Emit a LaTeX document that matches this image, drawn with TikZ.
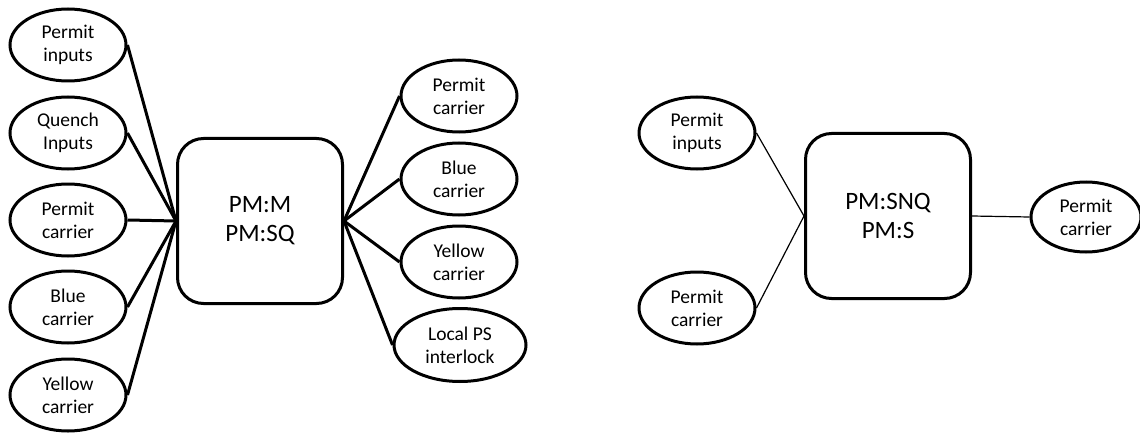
\documentclass[tikz,border=0pt]{standalone}
\usepackage{fontspec}
\setmainfont{Carlito}
\usetikzlibrary{shapes.geometric}
\begin{document}
\begin{tikzpicture}[x=1pt,y=-1pt,
  oval/.style={ellipse, draw, line width=3pt, inner sep=0pt,
    minimum width=116pt, minimum height=72pt, align=center,
    font=\fontsize{19.5}{23}\selectfont},
  module/.style={rectangle, draw, line width=3pt, rounded corners=26pt,
    minimum width=165pt, minimum height=165pt, align=center,
    font=\fontsize{25}{29}\selectfont},
  thick link/.style={line width=3pt},
  thin link/.style={line width=1.2pt}]
\useasboundingbox (0,0) rectangle (1140,433);

% first group: PM:M / PM:SQ
\node[module] (m) at (260,221) {PM:M\\PM:SQ};
\node[oval] (in1) at (68,45)  {Permit\\inputs};
\node[oval] (in2) at (68,133) {Quench\\Inputs};
\node[oval] (in3) at (68,220) {Permit\\carrier};
\node[oval] (in4) at (68,307) {Blue\\carrier};
\node[oval] (in5) at (68,395) {Yellow\\carrier};
\node[oval] (out1) at (459,96)  {Permit\\carrier};
\node[oval] (out2) at (459,179) {Blue\\carrier};
\node[oval] (out3) at (459,262) {Yellow\\carrier};
\node[oval, minimum width=132pt, minimum height=73pt] (out4) at (460,345) {Local PS\\interlock};

\foreach \n in {in1,in2,in3,in4,in5}
  \draw[thick link] (\n.east) -- (m.west);
\foreach \n in {out1,out2,out3,out4}
  \draw[thick link] (m.east) -- (\n.west);

% second group: PM:SNQ / PM:S
\node[module] (s) at (888,216) {PM:SNQ\\PM:S};
\node[oval] (sin1) at (697,133) {Permit\\inputs};
\node[oval] (sin2) at (697,308) {Permit\\carrier};
\node[oval, minimum width=110pt, minimum height=70pt] (sout) at (1086,217) {Permit\\carrier};

\draw[thin link] (sin1.east) -- (s.west);
\draw[thin link] (sin2.east) -- (s.west);
\draw[thin link] (s.east) -- (sout.west);
\end{tikzpicture}
\end{document}
